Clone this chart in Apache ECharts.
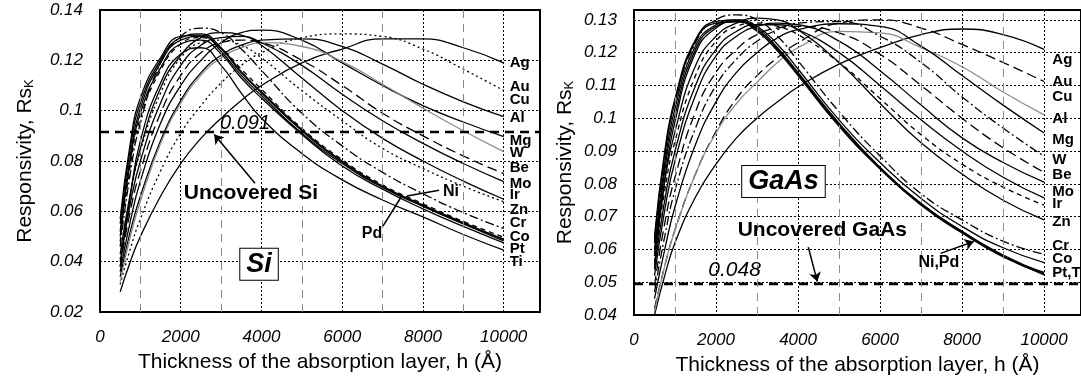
<!DOCTYPE html>
<html><head><meta charset="utf-8">
<script src="https://cdn.jsdelivr.net/npm/echarts@6/dist/echarts.min.js"></script>
<style>html,body{margin:0;padding:0;background:#fff}#c{width:1081px;height:385px}</style>
</head><body><div id="c"></div><script>
// thickness h (Å)
const X = [500, 750, 1000, 1500, 2000, 2500, 3000, 3500, 4000, 5000, 6000, 7000, 8000, 9000, 10000];

// ---- Si substrate ----
const siAg = [0.028, 0.040, 0.050, 0.066, 0.079, 0.089, 0.097, 0.104, 0.110, 0.119, 0.1245, 0.1285, 0.1285, 0.125, 0.119];
const siAu = [0.031, 0.045, 0.057, 0.076, 0.091, 0.102, 0.111, 0.118, 0.123, 0.129, 0.1305, 0.1295, 0.1245, 0.1165, 0.108];
const siCu = [0.034, 0.052, 0.066, 0.088, 0.104, 0.115, 0.122, 0.126, 0.128, 0.1285, 0.1255, 0.1185, 0.1105, 0.1035, 0.0976];
const siAl = [0.036, 0.056, 0.072, 0.095, 0.110, 0.120, 0.127, 0.131, 0.132, 0.128, 0.119, 0.110, 0.102, 0.0955, 0.0897];
const siMg = [0.032, 0.050, 0.064, 0.087, 0.103, 0.114, 0.121, 0.125, 0.127, 0.1255, 0.1195, 0.1105, 0.101, 0.092, 0.0837];
const siW  = [0.038, 0.060, 0.076, 0.099, 0.114, 0.123, 0.127, 0.128, 0.127, 0.120, 0.110, 0.099, 0.090, 0.082, 0.075];
const siBe = [0.040, 0.063, 0.080, 0.103, 0.118, 0.126, 0.129, 0.1295, 0.127, 0.118, 0.1065, 0.096, 0.087, 0.079, 0.0718];
const siMo = [0.043, 0.067, 0.085, 0.109, 0.122, 0.129, 0.131, 0.130, 0.126, 0.113, 0.100, 0.089, 0.080, 0.072, 0.0648];
const siIr = [0.041, 0.066, 0.084, 0.107, 0.121, 0.127, 0.128, 0.126, 0.121, 0.108, 0.096, 0.085, 0.077, 0.070, 0.0638];
const siZn = [0.046, 0.075, 0.095, 0.119, 0.1295, 0.1328, 0.131, 0.1245, 0.116, 0.099, 0.086, 0.0755, 0.067, 0.0595, 0.0532];
const siCr = [0.048, 0.078, 0.097, 0.116, 0.1265, 0.129, 0.1248, 0.1165, 0.1085, 0.093, 0.0805, 0.0705, 0.063, 0.056, 0.0497];
const siCo = [0.052, 0.082, 0.101, 0.119, 0.128, 0.1295, 0.1245, 0.115, 0.107, 0.092, 0.0795, 0.0698, 0.0622, 0.0553, 0.049];
const siNi = [0.055, 0.085, 0.103, 0.120, 0.129, 0.1305, 0.125, 0.1155, 0.1075, 0.0925, 0.080, 0.070, 0.0625, 0.0555, 0.0487];
const siPd = [0.057, 0.087, 0.105, 0.121, 0.1295, 0.130, 0.1235, 0.114, 0.106, 0.091, 0.079, 0.0695, 0.062, 0.055, 0.0483];
const siPt = [0.050, 0.080, 0.099, 0.117, 0.1265, 0.128, 0.1225, 0.113, 0.105, 0.0905, 0.078, 0.0688, 0.061, 0.054, 0.0475];
const siTi = [0.038, 0.066, 0.088, 0.111, 0.1225, 0.125, 0.118, 0.107, 0.097, 0.083, 0.0725, 0.0645, 0.0578, 0.0508, 0.0446];
const siUncovered = 0.0915;

// ---- GaAs substrate ----
const gaAg = [0.040, 0.052, 0.062, 0.076, 0.086, 0.094, 0.100, 0.105, 0.1095, 0.1165, 0.1215, 0.1255, 0.1272, 0.1255, 0.121];
const gaAu = [0.042, 0.055, 0.066, 0.083, 0.096, 0.106, 0.113, 0.1185, 0.123, 0.129, 0.130, 0.1275, 0.1225, 0.117, 0.1112];
const gaCu = [0.041, 0.055, 0.066, 0.083, 0.0955, 0.1045, 0.111, 0.117, 0.1215, 0.1265, 0.126, 0.1215, 0.1157, 0.108, 0.101];
const gaAl = [0.045, 0.060, 0.073, 0.092, 0.105, 0.114, 0.120, 0.1245, 0.127, 0.1288, 0.128, 0.122, 0.113, 0.104, 0.0955];
const gaMg = [0.047, 0.064, 0.078, 0.097, 0.110, 0.118, 0.1235, 0.127, 0.129, 0.1295, 0.125, 0.117, 0.1065, 0.097, 0.0884];
const gaW  = [0.049, 0.068, 0.082, 0.102, 0.114, 0.121, 0.1255, 0.1275, 0.128, 0.126, 0.1195, 0.110, 0.100, 0.091, 0.0835];
const gaBe = [0.052, 0.072, 0.087, 0.107, 0.119, 0.125, 0.128, 0.129, 0.1285, 0.1235, 0.1145, 0.104, 0.094, 0.0865, 0.0805];
const gaMo = [0.054, 0.075, 0.090, 0.110, 0.121, 0.1265, 0.1285, 0.1285, 0.127, 0.120, 0.110, 0.0995, 0.090, 0.082, 0.0757];
const gaIr = [0.056, 0.078, 0.093, 0.113, 0.1235, 0.128, 0.129, 0.128, 0.1255, 0.117, 0.106, 0.095, 0.086, 0.079, 0.0735];
const gaZn = [0.058, 0.081, 0.096, 0.116, 0.125, 0.129, 0.1305, 0.130, 0.127, 0.117, 0.1045, 0.0925, 0.083, 0.075, 0.069];
const gaCr = [0.062, 0.088, 0.105, 0.123, 0.130, 0.1315, 0.130, 0.125, 0.1175, 0.102, 0.0885, 0.077, 0.069, 0.0625, 0.0585];
const gaCo = [0.060, 0.086, 0.103, 0.122, 0.1285, 0.130, 0.128, 0.1225, 0.115, 0.0995, 0.0865, 0.0755, 0.067, 0.0605, 0.056];
const gaNi = [0.064, 0.090, 0.106, 0.124, 0.1295, 0.130, 0.127, 0.121, 0.1135, 0.098, 0.085, 0.074, 0.0655, 0.058, 0.053];
const gaPd = [0.063, 0.089, 0.105, 0.1235, 0.129, 0.1295, 0.1265, 0.1205, 0.113, 0.0975, 0.0845, 0.0735, 0.065, 0.0577, 0.0525];
const gaPt = [0.058, 0.084, 0.101, 0.121, 0.128, 0.1295, 0.127, 0.121, 0.1135, 0.098, 0.0848, 0.0738, 0.0652, 0.058, 0.0522];
const gaTi = [0.055, 0.081, 0.099, 0.120, 0.1275, 0.1295, 0.1275, 0.1215, 0.114, 0.0985, 0.085, 0.074, 0.0655, 0.0583, 0.0528];
const gaUncovered = 0.0495;

// axis ticks
const xMinorGrid = [1000, 3000, 5000, 7000, 9000];

// right-hand curve labels (y in data units)
const siLabels = ['Ag','Au','Cu','Al','Mg','W','Be','Mo','Ir','Zn','Cr','Co','Pt','Ti'];
const siLabelY = [0.1188, 0.1093, 0.1041, 0.0970, 0.0882, 0.0831, 0.0771, 0.0711, 0.0664, 0.0604, 0.0553, 0.0497, 0.0449, 0.0398];
const gaLabels = ['Ag','Au','Cu','Al','Mg','W','Be','Mo','Ir','Zn','Cr','Co','Pt,Ti'];
const gaLabelY = [0.1178, 0.1111, 0.1065, 0.0998, 0.0934, 0.0873, 0.0827, 0.0775, 0.0739, 0.0684, 0.0610, 0.0571, 0.0528];

const siCurves = [
  ['Ag', siAg, 'solid'], ['Au', siAu, 'dot'], ['Cu', siCu, 'solid'], ['Al', siAl, 'solid'],
  ['Mg', siMg, 'grey'], ['W', siW, 'longdash'], ['Be', siBe, 'solid'], ['Mo', siMo, 'solid'],
  ['Ir', siIr, 'dot'], ['Zn', siZn, 'dashdot'], ['Cr', siCr, 'dash'], ['Co', siCo, 'solid'],
  ['Ni', siNi, 'solid'], ['Pd', siPd, 'solid'], ['Pt', siPt, 'solid'], ['Ti', siTi, 'solid']
];
const gaCurves = [
  ['Ag', gaAg, 'solid'], ['Au', gaAu, 'longdash'], ['Cu', gaCu, 'grey'], ['Al', gaAl, 'solid'],
  ['Mg', gaMg, 'dashdot'], ['W', gaW, 'longdash'], ['Be', gaBe, 'solid'], ['Mo', gaMo, 'solid'],
  ['Ir', gaIr, 'dash'], ['Zn', gaZn, 'solid'], ['Cr', gaCr, 'dashdot'], ['Co', gaCo, 'solid'],
  ['Ni', gaNi, 'solid'], ['Pd', gaPd, 'solid'], ['Pt', gaPt, 'solid'], ['Ti', gaTi, 'solid']
];

function styleFor(s) {
  const base = {color: '#000', width: 1.3, type: 'solid'};
  if (s === 'grey') return {color: '#8c8c8c', width: 1.3, type: 'solid'};
  if (s === 'dot') return Object.assign(base, {type: [2, 3]});
  if (s === 'dash') return Object.assign(base, {type: [5, 4]});
  if (s === 'longdash') return Object.assign(base, {type: [10, 5]});
  if (s === 'dashdot') return Object.assign(base, {type: [9, 3, 2, 3]});
  return base;
}

const FONT = 'Arial, "Liberation Sans", sans-serif';
const XMAX = 10900;

function xAxisFor(gi) {
  return {
    gridIndex: gi, type: 'value', min: 0, max: XMAX, interval: 2000,
    axisLine: {show: false}, axisTick: {show: false},
    axisLabel: {showMaxLabel: false, fontStyle: 'italic', fontSize: 17, color: '#000', margin: 17, fontFamily: FONT,
      formatter: v => String(v)},
    splitLine: {show: true, lineStyle: {color: '#000', type: [2, 2], width: 1}},
    name: 'Thickness of the absorption layer, h (Å)', nameLocation: 'middle', nameGap: 40,
    nameTextStyle: {fontSize: 21, color: '#000', fontFamily: FONT}
  };
}
function yAxisFor(gi, min, max, interval, gap) {
  return {
    gridIndex: gi, type: 'value', min: min, max: max, interval: interval,
    axisLine: {show: false}, axisTick: {show: false},
    axisLabel: {showMaxLabel: gi === 0, fontStyle: 'italic', fontSize: 17, color: '#000', margin: 17, fontFamily: FONT},
    splitLine: {show: true, lineStyle: {color: '#000', type: [2, 2], width: 1}},
    name: 'Responsivity, Rs{k|K}', nameLocation: 'middle', nameGap: gap,
    nameTextStyle: {fontSize: 21, color: '#000', fontFamily: FONT,
      rich: {k: {fontSize: 13, color: '#000', fontFamily: FONT, padding: [9, 0, 0, 0]}}}
  };
}

const series = [];
[siCurves, gaCurves].forEach((curves, gi) => {
  series.push({
    type: 'line', xAxisIndex: gi, yAxisIndex: gi, data: [], silent: true, z: 1,
    markLine: {silent: true, symbol: ['none', 'none'], label: {show: false}, animation: false,
      lineStyle: {color: '#8a8a8a', width: 1, type: [8, 6]},
      data: xMinorGrid.map(v => ({xAxis: v}))}
  });
  curves.forEach(c => {
    series.push({
      name: c[0], type: 'line', xAxisIndex: gi, yAxisIndex: gi, silent: true, z: 2,
      data: X.map((x, k) => [x, c[1][k]]), smooth: 0.5, symbol: 'none',
      lineStyle: styleFor(c[2])
    });
  });
});

// uncovered-substrate reference lines
const uncovered = [siUncovered, gaUncovered];
uncovered.forEach((u, gi) => {
  series.push({
    type: 'line', xAxisIndex: gi, yAxisIndex: gi, silent: true, z: 3, symbol: 'none',
    data: [[0, u], [XMAX, u]],
    lineStyle: {color: '#000', width: 2.6, type: [9, 6]}
  });
});

// arrows and leaders (data coordinates)
function seg(a, b, arrow) {
  return [{coord: a, symbol: 'none'}, {coord: b, symbol: arrow ? 'arrow' : 'none'}];
}
const siArrows = [seg([3840, 0.0712], [2830, 0.0905], true), seg([8400, 0.0684], [7605, 0.0661], false), seg([7010, 0.0541], [7456, 0.0656], false)];
const gaArrows = [seg([4250, 0.0607], [4470, 0.0502], true), seg([7476, 0.0588], [8285, 0.0624], true)];
[siArrows, gaArrows].forEach((arr, gi) => {
  series.push({
    type: 'line', xAxisIndex: gi, yAxisIndex: gi, data: [], silent: true, z: 4,
    markLine: {silent: true, symbolSize: 9, label: {show: false}, animation: false,
      lineStyle: {color: '#000', width: 1.5, type: 'solid'}, data: arr}
  });
});

const chart = echarts.init(document.getElementById('c'), null, {renderer: 'canvas'});
chart.setOption({
  animation: false,
  backgroundColor: '#fff',
  grid: [
    {left: 100, top: 10, width: 440, height: 302, show: true, borderColor: '#000', borderWidth: 2, backgroundColor: 'transparent'},
    {left: 634, top: 10, width: 449, height: 305, show: true, borderColor: '#000', borderWidth: 2, backgroundColor: 'transparent'}
  ],
  xAxis: [xAxisFor(0), xAxisFor(1)],
  yAxis: [yAxisFor(0, 0.02, 0.14, 0.02, 64), yAxisFor(1, 0.04, 0.133, 0.01, 58)],
  series: series
});

// text annotations placed through the axes
function px(gi, x, y) { return chart.convertToPixel({xAxisIndex: gi, yAxisIndex: gi}, [x, y]); }
function txt(gi, x, y, text, font, align, extra) {
  const p = px(gi, x, y);
  return {type: 'text', x: p[0], y: p[1], z: 100, silent: true,
    style: Object.assign({text: text, font: font, fill: '#000', align: align || 'center', verticalAlign: 'middle',
      textAlign: align || 'center', textVerticalAlign: 'middle'}, extra || {})};
}
const g = [];
siLabels.forEach((t, i) => g.push(txt(0, 10150, siLabelY[i], t, 'bold 15px ' + FONT, 'left')));
gaLabels.forEach((t, i) => g.push(txt(1, 10200, gaLabelY[i], t, 'bold 15px ' + FONT, 'left')));
g.push(txt(0, 3592, 0.0950, '0.091', 'italic 20px ' + FONT));
g.push(txt(0, 3740, 0.0671, 'Uncovered Si', 'bold 21px ' + FONT));
g.push(txt(0, 8497, 0.0680, 'Ni', 'bold 16px ' + FONT, 'left'));
g.push(txt(0, 6738, 0.0513, 'Pd', 'bold 16px ' + FONT));
g.push(txt(0, 3940, 0.0390, 'Si', 'italic bold 27px ' + FONT, 'center',
  {backgroundColor: '#fff', borderColor: '#000', borderWidth: 1, padding: [3, 6, 1, 6]}));
g.push(txt(1, 3645, 0.0807, 'GaAs', 'italic bold 27px ' + FONT, 'center',
  {backgroundColor: '#fff', borderColor: '#000', borderWidth: 1, padding: [3, 6, 1, 6]}));
g.push(txt(1, 4592, 0.0659, 'Uncovered GaAs', 'bold 21px ' + FONT));
g.push(txt(1, 2454, 0.0537, '0.048', 'italic 21px ' + FONT));
g.push(txt(1, 7434, 0.0559, 'Ni,Pd', 'bold 16px ' + FONT));
chart.setOption({graphic: g});
</script></body></html>
